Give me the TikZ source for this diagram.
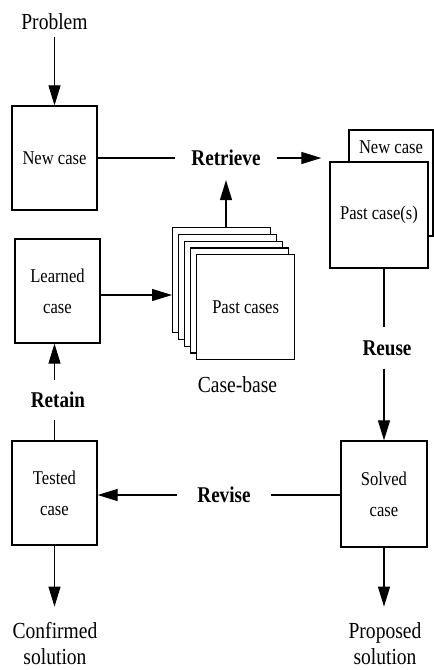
\documentclass[tikz,border=0pt]{standalone}
\usepackage{fontspec}
\setmainfont[FakeStretch=0.85]{Liberation Serif}
\usetikzlibrary{arrows.meta}
\begin{document}
\begin{tikzpicture}[x=1pt,y=-1pt,
  box/.style={draw, line width=1.3pt, fill=white, inner sep=0pt, align=center,
    font=\fontsize{19.5}{31}\selectfont},
  boxtext/.style={inner sep=0pt, font=\fontsize{19.5}{31}\selectfont},
  lbl/.style={inner sep=0pt, font=\fontsize{23}{26}\selectfont},
  stage/.style={inner sep=0pt, font=\bfseries\fontsize{22.5}{26}\selectfont},
  link/.style={line width=1.2pt},
  arr/.style={line width=1.2pt, -{Triangle[length=20pt,width=12pt]}}]

\useasboundingbox (0,0) rectangle (434,670);

% Input problem and new case
\node[lbl, anchor=base] (problem) at (54.5,29) {Problem};
\node[box, minimum width=85pt, minimum height=104pt] (new) at (54.5,158) {New case};
\draw[arr, shorten <=8pt] (problem.south -| new.north) -- (new.north);

% Retrieve step
\node[stage, inner xsep=16pt, inner ysep=0pt] (retrieve) at (226,158) {Retrieve};
\draw[link] (new.east) -- (retrieve.west);

% Retrieved pair: new case behind, past case(s) in front
\node[box, minimum width=84pt, minimum height=106pt] (pastback) at (391,183) {};
\node[boxtext] (backtext) at (391,147) {New case};
\node[box, minimum width=98pt, minimum height=106pt] (past) at (379,215) {Past case(s)};
\draw[arr, shorten >=8pt] (retrieve.east) -- (retrieve.east -| past.west);

% Case-base stack
\foreach \i in {0,...,3}{
  \node[box, anchor=north west, minimum width=98pt, minimum height=105pt]
    (cb\i) at ({172+6*\i},{227+6.75*\i}) {};
}
\node[box, anchor=north west, minimum width=98pt, minimum height=105pt]
  (cb4) at (196,254) {Past cases};
\node[lbl] (casebase) at (237.5,385) {Case-base};
\draw[arr, shorten >=14pt] (retrieve.south |- cb0.north) -- (retrieve.south);

% Reuse step
\node[box, minimum width=86pt, minimum height=106pt] (solved) at (384,494) {Solved\\case};
\node[stage, inner xsep=0pt, inner ysep=13pt] (reuse) at (387,348) {Reuse};
\draw[link] (solved.north |- past.south) -- (solved.north |- reuse.north);
\draw[arr] (solved.north |- reuse.south) -- (solved.north);
\node[lbl, anchor=base] (proposed) at (385,638)
  {\begin{tabular}[t]{@{}c@{}}Proposed\\solution\end{tabular}};
\draw[arr, shorten >=13pt] (solved.south) -- (solved.south |- proposed.north);

% Revise step
\node[box, minimum width=85pt, minimum height=104pt] (tested) at (54.5,493) {Tested\\case};
\node[stage, inner xsep=20.5pt, inner ysep=0pt] (revise) at (224,495) {Revise};
\draw[link] (solved.west |- revise.east) -- (revise.east);
\draw[arr] (revise.west) -- (revise.west -| tested.east);
\node[lbl, anchor=base] (confirmed) at (55,638)
  {\begin{tabular}[t]{@{}c@{}}Confirmed\\solution\end{tabular}};
\draw[arr, shorten >=13pt] (tested.south) -- (tested.south |- confirmed.north);

% Retain step
\node[box, minimum width=85pt, minimum height=104pt] (learned) at (57.5,291) {Learned\\case};
\node[stage, inner xsep=0pt, inner ysep=12pt] (retain) at (58,400) {Retain};
\draw[link] (tested.north) -- (tested.north |- retain.south);
\draw[arr] (tested.north |- retain.north) -- (tested.north |- learned.south);
\draw[arr] ([yshift=-4pt]learned.east) -- ([yshift=-4pt]learned.east -| cb0.west);

\end{tikzpicture}
\end{document}
